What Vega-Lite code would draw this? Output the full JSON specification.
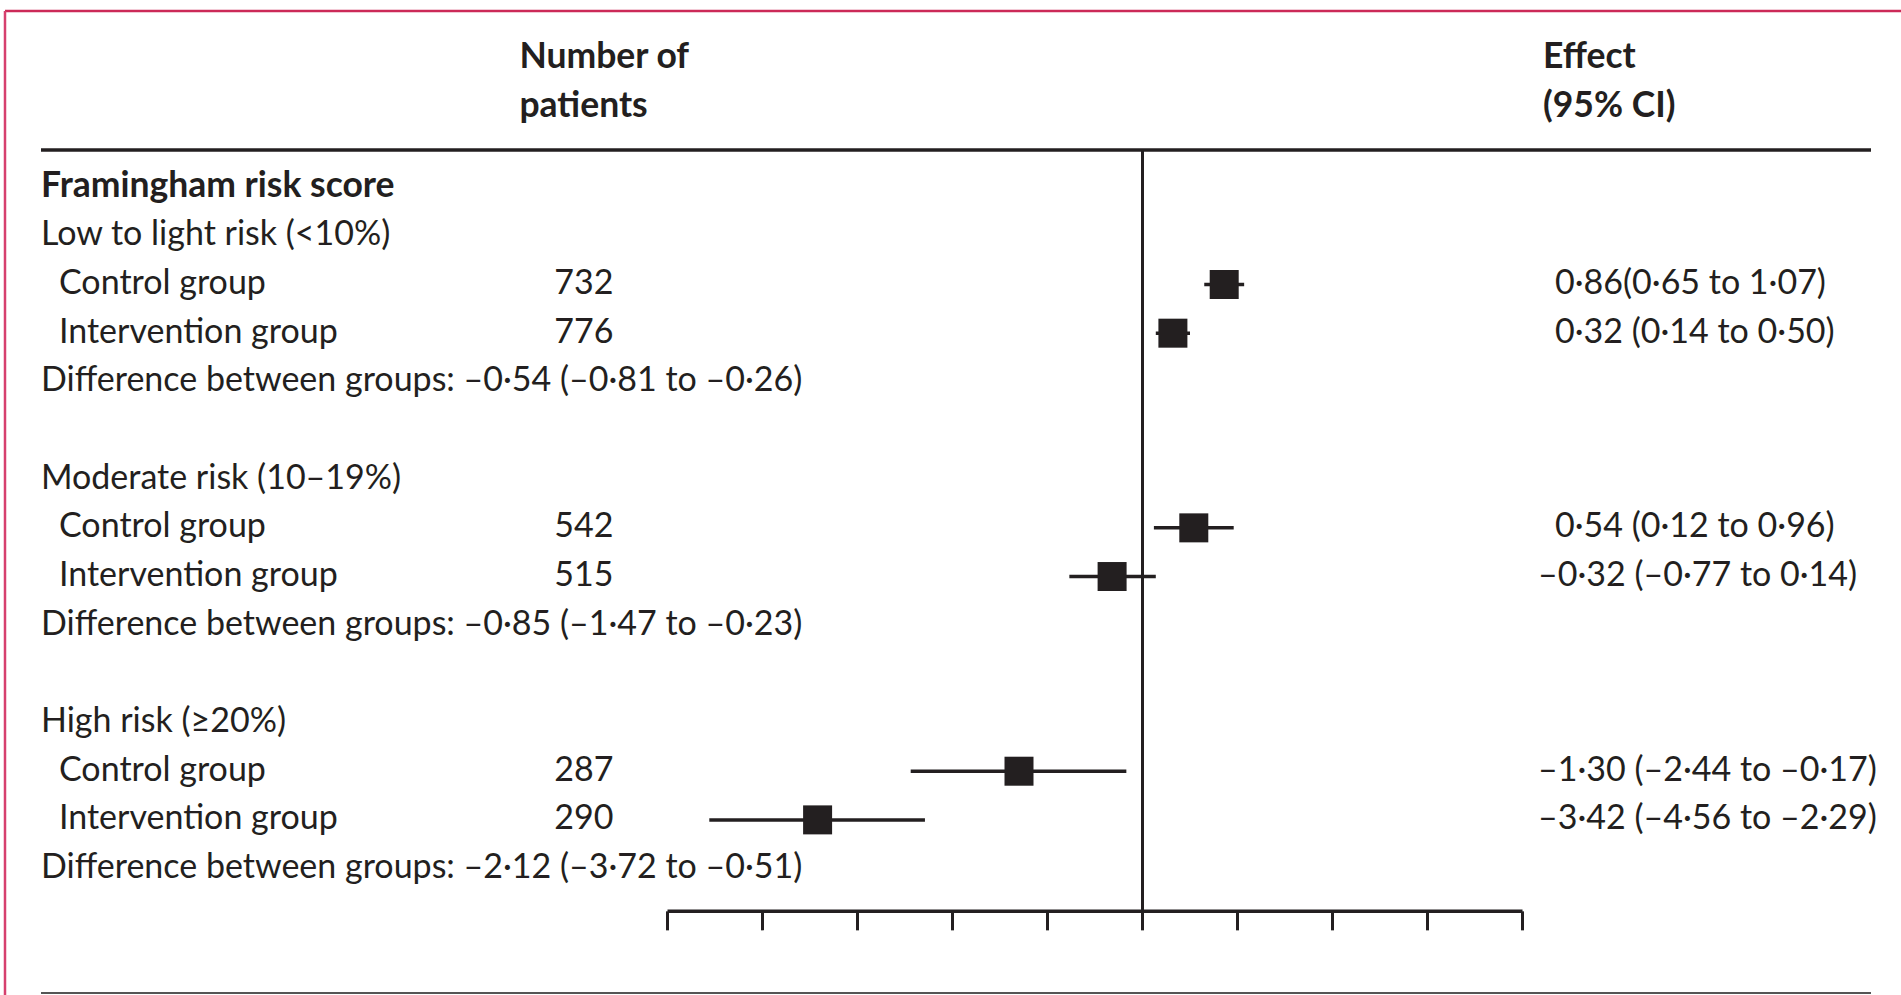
{
  "$schema": "https://vega.github.io/schema/vega-lite/v6.json",
  "width": 1901,
  "height": 995,
  "autosize": "none",
  "padding": 0,
  "background": "white",
  "config": {"view": {"stroke": null}, "text": {"font": "Lato", "fontSize": 34, "color": "#231f20"}},
  "datasets": {
    "one": [{}],
    "ticks": [{"t": -5}, {"t": -4}, {"t": -3}, {"t": -2}, {"t": -1}, {"t": 0}, {"t": 1}, {"t": 2}, {"t": 3}, {"t": 4}],
    "rows": [
      {"row": 1, "kind": "heading", "label": "Framingham risk score"},
      {"row": 2, "kind": "sub", "label": "Low to light risk (<10%)"},
      {"row": 3, "kind": "group", "label": "Control group", "n": 732, "est": 0.86, "lo": 0.65, "hi": 1.07, "effect": "0·86(0·65 to 1·07)"},
      {"row": 4, "kind": "group", "label": "Intervention group", "n": 776, "est": 0.32, "lo": 0.14, "hi": 0.50, "effect": "0·32 (0·14 to 0·50)"},
      {"row": 5, "kind": "diff", "label": "Difference between groups: –0·54 (–0·81 to –0·26)"},
      {"row": 7, "kind": "sub", "label": "Moderate risk (10–19%)"},
      {"row": 8, "kind": "group", "label": "Control group", "n": 542, "est": 0.54, "lo": 0.12, "hi": 0.96, "effect": "0·54 (0·12 to 0·96)"},
      {"row": 9, "kind": "group", "label": "Intervention group", "n": 515, "est": -0.32, "lo": -0.77, "hi": 0.14, "effect": "–0·32 (–0·77 to 0·14)"},
      {"row": 10, "kind": "diff", "label": "Difference between groups: –0·85 (–1·47 to –0·23)"},
      {"row": 12, "kind": "sub", "label": "High risk (≥20%)"},
      {"row": 13, "kind": "group", "label": "Control group", "n": 287, "est": -1.30, "lo": -2.44, "hi": -0.17, "effect": "–1·30 (–2·44 to –0·17)"},
      {"row": 14, "kind": "group", "label": "Intervention group", "n": 290, "est": -3.42, "lo": -4.56, "hi": -2.29, "effect": "–3·42 (–4·56 to –2·29)"},
      {"row": 15, "kind": "diff", "label": "Difference between groups: –2·12 (–3·72 to –0·51)"}
    ]
  },
  "layer": [
    {
      "data": {"name": "one"},
      "mark": {"type": "rule", "color": "#231f20", "strokeWidth": 3},
      "encoding": {
        "x": {"datum": 0, "type": "quantitative", "scale": {"domain": [-12.0263, 7.9842], "nice": false, "zero": false}, "axis": null},
        "y": {"datum": 0.2365, "type": "quantitative", "scale": {"domain": [-2.8455, 17.598], "nice": false, "zero": false, "reverse": true}, "axis": null},
        "y2": {"datum": 15.879}
      }
    },
    {
      "data": {"name": "one"},
      "mark": {"type": "rule", "color": "#231f20", "strokeWidth": 3.5},
      "encoding": {"x": {"datum": -11.5947}, "x2": {"datum": 7.6684}, "y": {"datum": 0.2365}}
    },
    {
      "data": {"name": "one"},
      "mark": {"type": "rule", "color": "#555555", "strokeWidth": 2},
      "encoding": {"x": {"datum": -11.5947}, "x2": {"datum": 7.6684}, "y": {"datum": 17.557}}
    },
    {
      "data": {"name": "one"},
      "mark": {"type": "rule", "color": "#cc2a58", "strokeWidth": 2.5},
      "encoding": {"x": {"datum": -11.9737}, "x2": {"datum": 7.9842}, "y": {"datum": -2.6195}}
    },
    {
      "data": {"name": "one"},
      "mark": {"type": "rule", "color": "#d6406e", "strokeWidth": 2.5},
      "encoding": {"x": {"datum": -11.9737}, "y": {"datum": -2.6195}, "y2": {"datum": 17.598}}
    },
    {
      "data": {"name": "one"},
      "mark": {"type": "rule", "color": "#231f20", "strokeWidth": 3.5},
      "encoding": {"x": {"datum": -5}, "x2": {"datum": 4}, "y": {"datum": 15.879}}
    },
    {
      "data": {"name": "ticks"},
      "mark": {"type": "rule", "color": "#231f20", "strokeWidth": 3},
      "encoding": {"x": {"field": "t", "type": "quantitative"}, "y": {"datum": 15.879}, "y2": {"datum": 16.27}}
    },
    {
      "data": {"name": "rows"},
      "transform": [{"filter": "isValid(datum.est)"}],
      "mark": {"type": "rule", "color": "#231f20", "strokeWidth": 3.5},
      "encoding": {"x": {"field": "lo", "type": "quantitative"}, "x2": {"field": "hi"}, "y": {"field": "row", "type": "quantitative"}}
    },
    {
      "data": {"name": "rows"},
      "transform": [{"filter": "isValid(datum.est)"}],
      "mark": {"type": "point", "shape": "square", "filled": true, "size": 841, "color": "#231f20", "opacity": 1, "strokeWidth": 0},
      "encoding": {"x": {"field": "est", "type": "quantitative"}, "y": {"field": "row", "type": "quantitative"}}
    },
    {
      "data": {"name": "rows"},
      "transform": [{"filter": "datum.kind === 'heading'"}],
      "mark": {"type": "text", "align": "left", "baseline": "alphabetic", "dy": 9.5, "fontWeight": "bold", "fontSize": 35.5},
      "encoding": {"x": {"datum": -11.5947}, "y": {"field": "row", "type": "quantitative"}, "text": {"field": "label"}}
    },
    {
      "data": {"name": "rows"},
      "transform": [{"filter": "datum.kind === 'sub' || datum.kind === 'diff'"}],
      "mark": {"type": "text", "align": "left", "baseline": "alphabetic", "dy": 9.5},
      "encoding": {"x": {"datum": -11.5947}, "y": {"field": "row", "type": "quantitative"}, "text": {"field": "label"}}
    },
    {
      "data": {"name": "rows"},
      "transform": [{"filter": "datum.kind === 'group'"}],
      "mark": {"type": "text", "align": "left", "baseline": "alphabetic", "dy": 9.5},
      "encoding": {"x": {"datum": -11.4053}, "y": {"field": "row", "type": "quantitative"}, "text": {"field": "label"}}
    },
    {
      "data": {"name": "rows"},
      "transform": [{"filter": "isValid(datum.n)"}],
      "mark": {"type": "text", "align": "right", "baseline": "alphabetic", "dy": 9.5},
      "encoding": {"x": {"datum": -5.5684}, "y": {"field": "row", "type": "quantitative"}, "text": {"field": "n", "type": "quantitative"}}
    },
    {
      "data": {"name": "rows"},
      "transform": [{"filter": "isValid(datum.est) && datum.est < 0"}],
      "mark": {"type": "text", "align": "left", "baseline": "alphabetic", "dy": 9.5},
      "encoding": {"x": {"datum": 4.1632}, "y": {"field": "row", "type": "quantitative"}, "text": {"field": "effect"}}
    },
    {
      "data": {"name": "rows"},
      "transform": [{"filter": "isValid(datum.est) && datum.est >= 0"}],
      "mark": {"type": "text", "align": "left", "baseline": "alphabetic", "dy": 9.5},
      "encoding": {"x": {"datum": 4.3421}, "y": {"field": "row", "type": "quantitative"}, "text": {"field": "effect"}}
    },
    {
      "data": {"values": [{"h": "Number of\npatients"}]},
      "mark": {"type": "text", "align": "left", "baseline": "alphabetic", "dy": 9.5, "fontWeight": "bold", "fontSize": 35.5, "lineBreak": "\n", "lineHeight": 48.67},
      "encoding": {"x": {"datum": -6.5589}, "y": {"datum": -1.637}, "text": {"field": "h"}}
    },
    {
      "data": {"values": [{"h": "Effect\n(95% CI)"}]},
      "mark": {"type": "text", "align": "left", "baseline": "alphabetic", "dy": 9.5, "fontWeight": "bold", "fontSize": 35.5, "lineBreak": "\n", "lineHeight": 48.67},
      "encoding": {"x": {"datum": 4.2158}, "y": {"datum": -1.637}, "text": {"field": "h"}}
    }
  ]
}
